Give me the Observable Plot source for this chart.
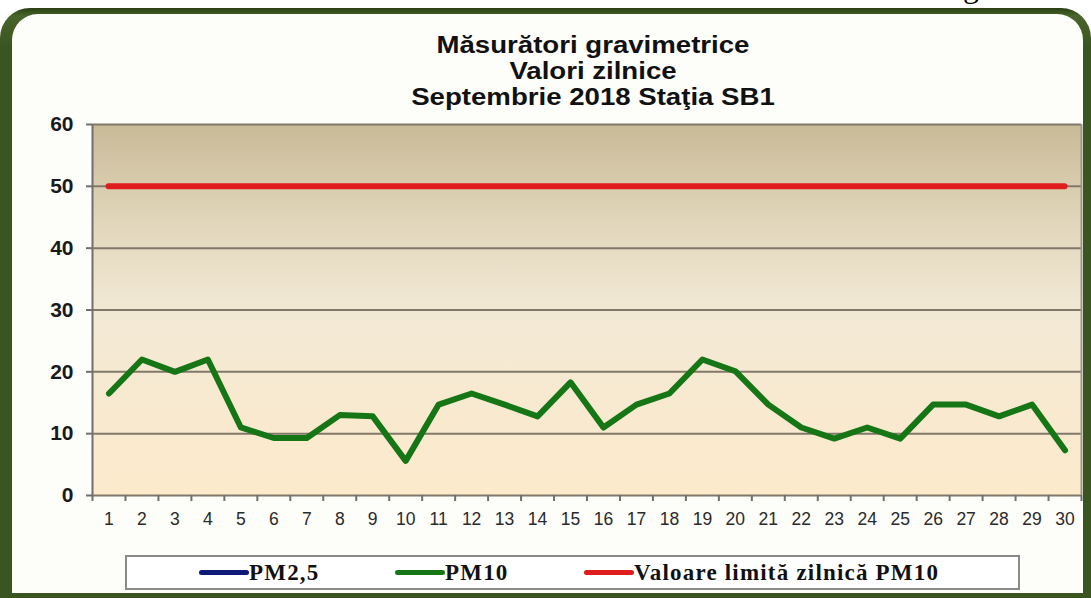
<!DOCTYPE html>
<html>
<head>
<meta charset="utf-8">
<script src="https://cdn.jsdelivr.net/npm/d3@7"></script>
<script src="https://cdn.jsdelivr.net/npm/@observablehq/plot@0.6"></script>
<style>
  body { margin: 0; background: #fff; }
  #wrap { position: relative; width: 1091px; height: 598px; overflow: hidden; background: #fff; }
  #g { position: absolute; left: 963px; top: -30px; font: 32px/1 "Liberation Serif", serif; color: #000; }
  #frame { position: absolute; left: 0; top: 8px; width: 1091px; height: 600px;
           background: linear-gradient(#2a3f14, #48652a 8px, #3a5520 40px, #3a5520);
           border-radius: 30px 30px 0 0; }
  #panel { position: absolute; left: 12px; top: 14px; width: 1071px; height: 579px;
           background: #fdfdf9; border-radius: 26px 26px 0 0; }
  #title { position: absolute; left: 0; top: 32px; width: 1186px; text-align: center;
           font: bold 23px/26px "Liberation Sans", Arial, sans-serif; color: #111;
           transform: scaleX(1.2); transform-origin: 593px 0; }
  #title div { height: 26px; overflow: visible; }
  #chart { position: absolute; left: 0; top: 110px; }
  #legend { position: absolute; left: 125px; top: 555px; width: 891px; height: 31px;
            border: 2px solid #8a8a8a; background: #fff; }
  .item { position: absolute; top: 0; height: 31px; display: flex; align-items: center;
          font: bold 23px/1 "Liberation Serif", "Times New Roman", serif; color: #111; letter-spacing: 1.2px; }
  .swatch { display: inline-block; width: 50px; height: 5px; border-radius: 3px; margin-right: 0; }
</style>
</head>
<body>
<div id="wrap">
  <div id="g">g</div>
  <div id="frame"></div>
  <div id="panel"></div>
  <div id="title"></div>
  <div id="chart"></div>
  <div id="legend"></div>
</div>
<script>
// ---- data ----
const titleLines = ["Măsurători gravimetrice", "Valori zilnice", "Septembrie 2018 Staţia SB1"];
const days = [1,2,3,4,5,6,7,8,9,10,11,12,13,14,15,16,17,18,19,20,21,22,23,24,25,26,27,28,29,30];
const pm10 = [16.5,22,20,22,11,9.3,9.3,13,12.8,5.6,14.7,16.5,14.7,12.8,18.3,11,14.7,16.5,22,20.1,14.7,11,9.2,11,9.2,14.7,14.7,12.8,14.7,7.3];
const pm25 = []; // no values shown
const limitValue = 50;
const yTicks = [0,10,20,30,40,50,60];
const seriesNames = ["PM2,5", "PM10", "Valoare limită zilnică PM10"];
const seriesColors = ["#0d1a78", "#167616", "#e01d1d"];

document.getElementById("title").innerHTML = titleLines.map(t => `<div>${t}</div>`).join("");

const rows = days.map((d, i) => ({day: d, v: pm10[i]}));
const bounds = [...days.map(d => d - 0.5), days[days.length - 1] + 0.5];

const svg = Plot.plot({
  width: 1091,
  height: 424,
  marginLeft: 92,
  marginRight: 10,
  marginTop: 14,
  marginBottom: 39,
  style: {background: "transparent", overflow: "visible"},
  x: {domain: [bounds[0], bounds[bounds.length - 1]], label: null},
  y: {domain: [yTicks[0], yTicks[yTicks.length - 1]], label: null},
  marks: [
    Plot.frame({fill: "url(#plotBg)", stroke: "none"}),
    Plot.ruleY(yTicks, {stroke: "#81786a", strokeWidth: 2}),
    Plot.ruleX([bounds[bounds.length - 1]], {stroke: "#9a958c", strokeWidth: 2}),
    Plot.ruleX([bounds[0]], {stroke: "#6f6f6f", strokeWidth: 2}),
    Plot.axisY(yTicks, {tickSize: 6, tickPadding: 13, fontSize: 21, fontWeight: "bold", label: null,
      fontFamily: "'Liberation Sans', Arial, sans-serif", fill: "#1a1a1a", stroke: "#6f6f6f", strokeWidth: 2}),
    Plot.axisX(bounds, {tickSize: 6, tickFormat: () => "", label: null, stroke: "#6f6f6f", strokeWidth: 2}),
    Plot.axisX(days, {tickSize: 0, tickPadding: 17, fontSize: 17.5, label: null,
      fontFamily: "'Liberation Sans', Arial, sans-serif", fill: "#2a2a2a"}),
    Plot.ruleY([limitValue], {x1: days[0], x2: days[days.length - 1], stroke: seriesColors[2],
      strokeWidth: 6, strokeLinecap: "round"}),
    Plot.line(rows, {x: "day", y: "v", stroke: seriesColors[1], strokeWidth: 6,
      strokeLinejoin: "round", strokeLinecap: "round"})
  ]
});
svg.insertAdjacentHTML("afterbegin",
  `<defs><linearGradient id="plotBg" x1="0" y1="0" x2="0" y2="1">
     <stop offset="0" stop-color="#c9ba97"/>
     <stop offset="0.25" stop-color="#e0d5b9"/>
     <stop offset="0.5" stop-color="#f2e9d5"/>
     <stop offset="1" stop-color="#fdeacb"/>
   </linearGradient></defs>`);
document.getElementById("chart").appendChild(svg);

// legend
const legendLeft = [72, 268, 457];
const legend = document.getElementById("legend");
seriesNames.forEach((name, i) => {
  const it = document.createElement("div");
  it.className = "item";
  it.style.left = legendLeft[i] + "px";
  it.innerHTML = `<span class="swatch" style="background:${seriesColors[i]}"></span><span>${name}</span>`;
  legend.appendChild(it);
});
</script>
</body>
</html>
